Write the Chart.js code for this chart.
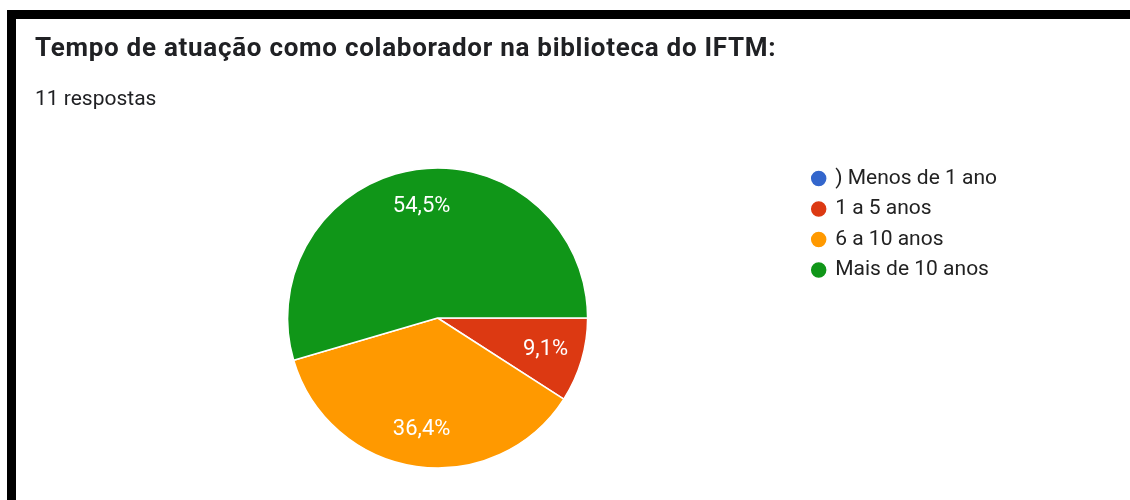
<!DOCTYPE html>
<html>
<head>
<meta charset="utf-8">
<script src="https://cdn.jsdelivr.net/npm/chart.js@4/dist/chart.umd.min.js"></script>
<style>
  html, body { margin: 0; padding: 0; background: #fff; }
  body { width: 1130px; height: 500px; position: relative; overflow: hidden; font-family: Roboto, Arial, sans-serif; }
  #frame { position: absolute; left: 7px; top: 10px; width: 1123px; height: 490px; border-top: 9px solid #000; border-left: 9px solid #000; box-sizing: border-box; }
  #titulo { position: absolute; left: 35px; top: 32px; font-size: 26px; letter-spacing: 0.72px; font-weight: bold; color: #202124; white-space: nowrap; z-index: 2; }
  #sub { position: absolute; left: 35px; top: 86px; font-size: 21px; color: #202124; white-space: nowrap; z-index: 2; }
  #wrap { position: absolute; left: 0; top: 0; width: 1130px; height: 500px; }
</style>
</head>
<body>
<div id="frame"></div>
<div id="titulo">Tempo de atuação como colaborador na biblioteca do IFTM:</div>
<div id="sub">11 respostas</div>
<div id="wrap"><canvas id="grafico"></canvas></div>
<script>
const categorias = [') Menos de 1 ano', '1 a 5 anos', '6 a 10 anos', 'Mais de 10 anos'];
const respostas = [0, 1, 4, 6];
const cores = ['#3366cc', '#dc3912', '#ff9900', '#109618'];

// rótulos de porcentagem dentro das fatias
const rotulosFatias = {
    id: 'rotulosFatias',
    afterDatasetsDraw(chart) {
        const ctx = chart.ctx;
        const dados = chart.data.datasets[0].data;
        const total = dados.reduce((a, b) => a + b, 0);
        ctx.save();
        ctx.font = '22px Roboto, Arial, sans-serif';
        ctx.fillStyle = '#ffffff';
        ctx.textAlign = 'center';
        ctx.textBaseline = 'middle';
        chart.getDatasetMeta(0).data.forEach(function (arc, i) {
            if (!dados[i]) return;
            const p = arc.getProps(['x', 'y', 'startAngle', 'endAngle', 'outerRadius'], true);
            const meio = (p.startAngle + p.endAngle) / 2;
            const r = p.outerRadius * 0.75;
            const txt = (dados[i] / total * 100).toFixed(1).replace('.', ',') + '%';
            ctx.fillText(txt, p.x + Math.cos(meio) * r, p.y + Math.sin(meio) * r);
        });
        ctx.restore();
    }
};

document.addEventListener('DOMContentLoaded', function () {
const ctx = document.getElementById('grafico').getContext('2d');
new Chart(ctx, {
    type: 'pie',
    data: {
        labels: categorias,
        datasets: [{
            data: respostas,
            backgroundColor: cores,
            borderColor: '#ffffff',
            borderWidth: 1.5,
            radius: 150
        }]
    },
    options: {
        responsive: true,
        maintainAspectRatio: false,
        animation: false,
        rotation: 90,
        layout: { padding: { left: 72, right: 123, top: 158.5, bottom: 22.5 } },
        plugins: {
            legend: {
                position: 'right',
                align: 'start',
                labels: {
                    usePointStyle: true,
                    pointStyle: 'circle',
                    boxWidth: 12,
                    boxHeight: 12,
                    padding: 9.5,
                    color: '#222222',
                    font: { family: 'Roboto, Arial, sans-serif', size: 21 }
                }
            },
            tooltip: { enabled: false }
        }
    },
    plugins: [rotulosFatias]
});
});
</script>
</body>
</html>
